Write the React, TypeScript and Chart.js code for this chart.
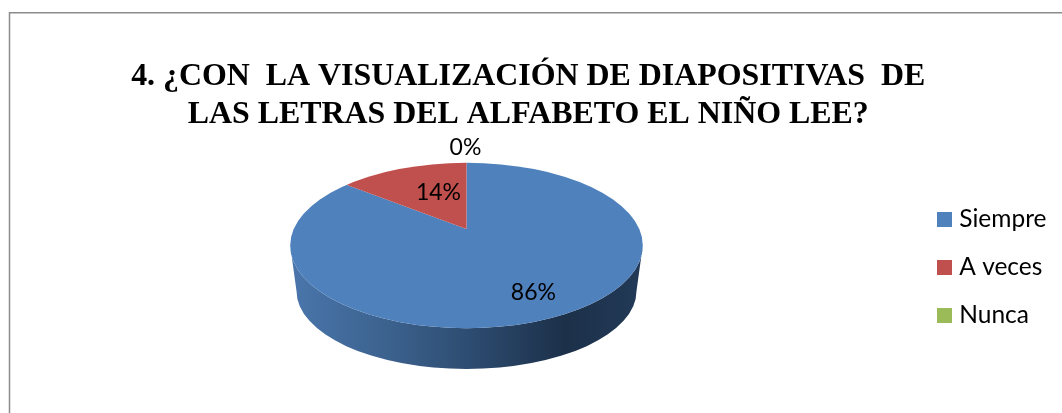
import React, { useEffect, useRef } from "react";
import { Chart, registerables } from "chart.js";

Chart.register(...registerables);

const categories = ["Siempre", "A veces", "Nunca"];
const values = [86, 14, 0];
const valueLabels = ["86%", "14%", "0%"];
const titleLines = [
  "4. ¿CON  LA VISUALIZACIÓN DE DIAPOSITIVAS  DE",
  "LAS LETRAS DEL ALFABETO EL NIÑO LEE?",
];
const colors = ["#4f81bd", "#c0504d", "#9bbb59"];

// 3D projection of the pie (style only)
const APEX = { x: 466.5, y: 229 };
const TILT = 0.445;
const TOP_FACE = { x: 466.5, y: 245.5, rx: 176.3, ry: 82.7 };
const BASE = { x: 466.5, y: 291, rx: 170, ry: 78 };
const LABEL_RADIUS = [157, 80, 182];
const LABEL_NUDGE = [
  [0, 0],
  [6, -4],
  [-1, 0],
];
const LEGEND_SWATCH = 15;

function swatch(color: string) {
  const c = document.createElement("canvas");
  c.width = LEGEND_SWATCH;
  c.height = LEGEND_SWATCH;
  const g = c.getContext("2d") as CanvasRenderingContext2D;
  g.fillStyle = color;
  g.fillRect(0, 0, LEGEND_SWATCH, LEGEND_SWATCH);
  return c;
}

const pie3d = {
  id: "pie3d",
  beforeDraw(chart: any) {
    const { ctx, width, height } = chart;
    ctx.save();
    ctx.fillStyle = "#ffffff";
    ctx.fillRect(0, 0, width, height);
    ctx.strokeStyle = "#8c8c8c";
    ctx.lineWidth = 1.5;
    ctx.strokeRect(9.5, 12.75, width + 20, height + 20);
    ctx.restore();
  },
  beforeDatasetsDraw(chart: any) {
    const { ctx } = chart;
    const first = chart.getDatasetMeta(0).data[0];
    // side wall
    const g = ctx.createLinearGradient(TOP_FACE.x - TOP_FACE.rx, 0, TOP_FACE.x + TOP_FACE.rx, 0);
    g.addColorStop(0, "#4a76ac");
    g.addColorStop(0.25, "#3d6491");
    g.addColorStop(0.5, "#2e4d72");
    g.addColorStop(0.78, "#1c3049");
    g.addColorStop(1, "#223a58");
    ctx.save();
    ctx.fillStyle = g;
    ctx.beginPath();
    ctx.ellipse(TOP_FACE.x, TOP_FACE.y, TOP_FACE.rx, TOP_FACE.ry, 0, Math.PI, 0, true);
    ctx.lineTo(BASE.x + BASE.rx, BASE.y);
    ctx.ellipse(BASE.x, BASE.y, BASE.rx, BASE.ry, 0, 0, Math.PI, false);
    ctx.closePath();
    ctx.fill();
    ctx.restore();
    // top face: the library's arcs, tilted and clipped to the face outline
    ctx.save();
    ctx.beginPath();
    ctx.ellipse(TOP_FACE.x, TOP_FACE.y, TOP_FACE.rx, TOP_FACE.ry, 0, 0, Math.PI * 2);
    ctx.clip();
    const k = 320 / first.outerRadius;
    ctx.translate(APEX.x, APEX.y);
    ctx.scale(k, k * TILT);
    ctx.translate(-first.x, -first.y);
  },
  afterDatasetsDraw(chart: any) {
    const { ctx } = chart;
    ctx.restore();
    ctx.save();
    ctx.fillStyle = "#000000";
    ctx.font = "23px Lato";
    ctx.textAlign = "center";
    ctx.textBaseline = "middle";
    chart.getDatasetMeta(0).data.forEach((arc: any, i: number) => {
      const mid = (arc.startAngle + arc.endAngle) / 2;
      const r = LABEL_RADIUS[i];
      const x = APEX.x + Math.cos(mid) * r + LABEL_NUDGE[i][0];
      const y = APEX.y + Math.sin(mid) * r * TILT + LABEL_NUDGE[i][1];
      ctx.fillText(valueLabels[i], x, y);
    });
    ctx.restore();
  },
};

export default function App() {
  const ref = useRef<HTMLCanvasElement>(null);
  useEffect(() => {
    const swatches = colors.map(swatch);
    const chart = new Chart(ref.current as HTMLCanvasElement, {
      type: "pie",
      data: {
        labels: categories,
        datasets: [{ data: values, backgroundColor: colors, borderWidth: 0 }],
      },
      options: {
        responsive: false,
        animation: false,
        layout: { padding: { left: 0, right: 5.5, top: 57.5, bottom: 62 } },
        plugins: {
          tooltip: { enabled: false },
          title: {
            display: true,
            text: titleLines,
            color: "#000000",
            font: { family: "'Liberation Serif'", size: 31.9, weight: "bold", lineHeight: 1.19 },
            padding: { top: 0, bottom: 10 },
          },
          legend: {
            position: "right",
            align: "end",
            labels: {
              usePointStyle: true,
              boxWidth: 5,
              boxHeight: 15,
              padding: 23.5,
              color: "#000000",
              font: { family: "Lato", size: 24.5 },
              generateLabels: () =>
                categories.map((text, i) => ({
                  text,
                  index: i,
                  fillStyle: colors[i],
                  strokeStyle: colors[i],
                  lineWidth: 0,
                  pointStyle: swatches[i],
                  fontColor: "#000000",
                })),
            },
          },
        },
      },
      plugins: [pie3d],
    } as any);
    return () => chart.destroy();
  }, []);
  return (
    <div style={{ position: "absolute", left: 0, top: 0, width: 1062, height: 413 }}>
      <canvas ref={ref} width={1062} height={413} style={{ display: "block" }} />
    </div>
  );
}
